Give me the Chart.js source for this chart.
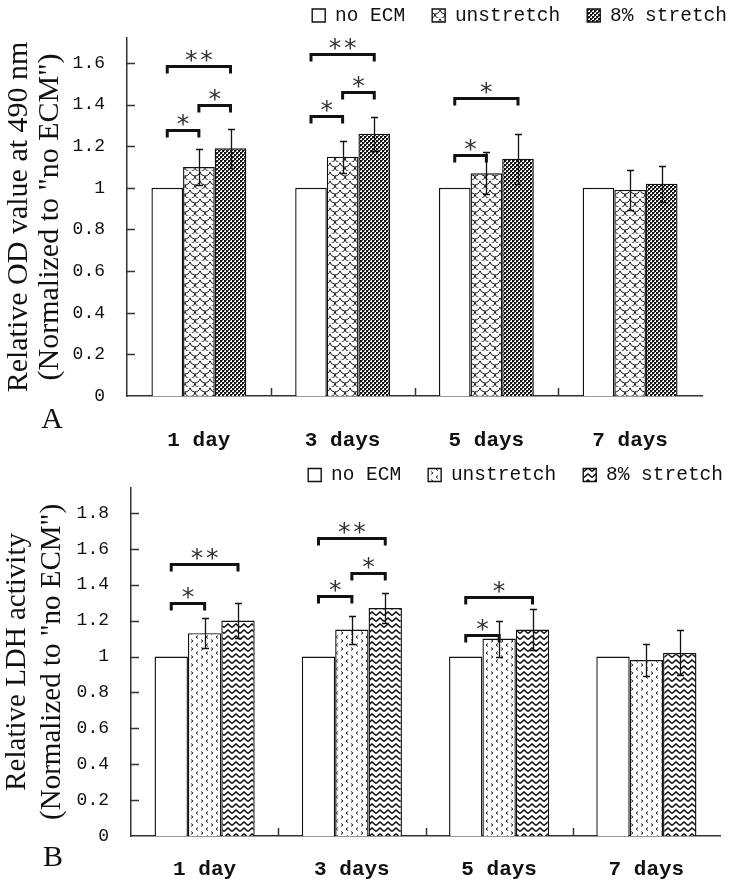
<!DOCTYPE html>
<html><head><meta charset="utf-8">
<script src="https://cdn.jsdelivr.net/npm/chart.js@4.4.1/dist/chart.umd.min.js"></script>
<style>
html,body{margin:0;padding:0;background:#fff;}
#wrap{position:relative;width:731px;height:883px;overflow:hidden;}
canvas{position:absolute;left:0;}
#cA{top:0;} #cB{top:455px;}
</style></head><body>
<div id="wrap"><canvas id="cA" width="731" height="455"></canvas><canvas id="cB" width="731" height="428"></canvas></div>
<script>
// ---------- data ----------
const categories = ['1 day', '3 days', '5 days', '7 days'];
const seriesNames = ['no ECM', 'unstretch', '8% stretch'];

// Panel A: Relative OD value at 490 nm
const odNoECM = [1, 1, 1, 1];
const odUnstretch = [1.10, 1.15, 1.07, 0.99];
const odStretch = [1.19, 1.26, 1.14, 1.02];
const odUnstretchErr = [0.085, 0.077, 0.10, 0.096];
const odStretchErr = [0.093, 0.082, 0.12, 0.087];
const odTickLabels = ['0', '0.2', '0.4', '0.6', '0.8', '1', '1.2', '1.4', '1.6'];
// significance: [category, fromSeries, toSeries, bracket value, mark]
const odSig = [
  [0, 0, 1, 1.28, '*'], [0, 1, 2, 1.40, '*'], [0, 0, 2, 1.585, '**'],
  [1, 0, 1, 1.345, '*'], [1, 1, 2, 1.46, '*'], [1, 0, 2, 1.645, '**'],
  [2, 0, 1, 1.16, '*'], [2, 0, 2, 1.43, '*']
];

// Panel B: Relative LDH activity
const ldhNoECM = [1, 1, 1, 1];
const ldhUnstretch = [1.13, 1.15, 1.10, 0.98];
const ldhStretch = [1.20, 1.27, 1.15, 1.02];
const ldhUnstretchErr = [0.084, 0.078, 0.10, 0.09];
const ldhStretchErr = [0.098, 0.085, 0.115, 0.125];
const ldhTickLabels = ['0', '0.2', '0.4', '0.6', '0.8', '1', '1.2', '1.4', '1.6', '1.8'];
const ldhSig = [
  [0, 0, 1, 1.30, '*'], [0, 0, 2, 1.515, '**'],
  [1, 0, 1, 1.335, '*'], [1, 1, 2, 1.465, '*'], [1, 0, 2, 1.66, '**'],
  [2, 0, 1, 1.12, '*'], [2, 0, 2, 1.33, '*']
];

// ---------- patterns ----------
function pat(target, w, h, draw) {
  const c = document.createElement('canvas'); c.width = w; c.height = h;
  const g = c.getContext('2d');
  g.fillStyle = '#fff'; g.fillRect(0, 0, w, h);
  draw(g);
  return target.createPattern(c, 'repeat');
}
function scalePattern(t) {
  return pat(t, 10, 9, g => {
    g.strokeStyle = '#111'; g.lineWidth = 1;
    g.beginPath(); g.arc(5, 0, 5, 0.15, Math.PI - 0.15); g.stroke();
    g.beginPath(); g.arc(0, 4.5, 5, 0.15, Math.PI / 2); g.stroke();
    g.beginPath(); g.arc(10, 4.5, 5, Math.PI / 2, Math.PI - 0.15); g.stroke();
  });
}
function checkerPattern(t) {
  return pat(t, 4, 4, g => {
    g.fillStyle = '#111'; g.fillRect(0, 0, 2, 2); g.fillRect(2, 2, 2, 2);
    g.fillStyle = '#555'; g.fillRect(2, 0, 1, 1); g.fillRect(0, 2, 1, 1);
  });
}
function chevronPattern(t) {
  return pat(t, 10, 8, g => {
    g.strokeStyle = '#222'; g.lineWidth = 1;
    g.beginPath(); g.moveTo(1, 0.5); g.lineTo(3, 2); g.lineTo(1, 3.5); g.stroke();
    g.beginPath(); g.moveTo(8, 4.5); g.lineTo(6, 6); g.lineTo(8, 7.5); g.stroke();
  });
}
function zigzagPattern(t) {
  return pat(t, 8, 6, g => {
    g.strokeStyle = '#111'; g.lineWidth = 1.6;
    g.beginPath(); g.moveTo(0, 4.5); g.lineTo(4, 1); g.lineTo(8, 4.5); g.stroke();
    g.beginPath(); g.moveTo(-4, 1); g.lineTo(0, 4.5); g.stroke();
    g.beginPath(); g.moveTo(8, 4.5); g.lineTo(12, 1); g.stroke();
  });
}

// ---------- plugins ----------
const legendFix = {
  id: 'legendFix',
  beforeLayout(chart, args, opts) {
    const lg = chart.legend;
    if (lg && !lg.__fixed) {
      const orig = lg.fit;
      lg.fit = function () { orig.call(this); this.height = opts.height; };
      lg.__fixed = true;
    }
  },
  afterLayout(chart, args, opts) {
    const lg = chart.legend;
    if (!lg) return;
    const lo = lg.options.labels;
    const itemH = Math.max(lo.font.size, lo.boxHeight);
    lg.top = opts.centerY - lo.padding - itemH / 2;
    lg.bottom = lg.top + lo.padding + itemH + 8;
    lg.right = opts.right + lo.padding;
  }
};

const errorBars = {
  id: 'errorBars',
  afterDatasetsDraw(chart) {
    const { ctx, scales: { y } } = chart;
    ctx.save();
    ctx.strokeStyle = '#111'; ctx.lineWidth = 1.3;
    chart.data.datasets.forEach((ds, di) => {
      if (!ds.errors) return;
      chart.getDatasetMeta(di).data.forEach((bar, i) => {
        const v = ds.data[i], e = ds.errors[i];
        if (!e) return;
        const x = Math.round(bar.x) + 0.5;
        const yt = Math.round(y.getPixelForValue(v + e)) + 0.5;
        const yb = Math.round(y.getPixelForValue(v - e)) + 0.5;
        ctx.beginPath();
        ctx.moveTo(x, yt); ctx.lineTo(x, yb);
        ctx.moveTo(x - 3.5, yt); ctx.lineTo(x + 3.5, yt);
        ctx.moveTo(x - 3.5, yb); ctx.lineTo(x + 3.5, yb);
        ctx.stroke();
      });
    });
    ctx.restore();
  }
};

function sigBrackets(items) {
  return {
    id: 'sigBrackets',
    afterDatasetsDraw(chart) {
      const { ctx, scales: { y } } = chart;
      ctx.save();
      items.forEach(([c, a, b, val, mark]) => {
        const xa = chart.getDatasetMeta(a).data[c].x;
        const xb = chart.getDatasetMeta(b).data[c].x;
        const yy = Math.round(y.getPixelForValue(val)) + 0.5;
        ctx.strokeStyle = '#111'; ctx.lineWidth = 3; ctx.lineJoin = 'miter'; ctx.lineCap = 'butt';
        ctx.beginPath();
        ctx.moveTo(xa, yy + 7); ctx.lineTo(xa, yy); ctx.lineTo(xb, yy); ctx.lineTo(xb, yy + 7);
        ctx.stroke();
        ctx.fillStyle = '#333'; ctx.font = '25px "DejaVu Sans Mono"';
        ctx.textAlign = 'center'; ctx.textBaseline = 'alphabetic';
        ctx.fillText(mark, (xa + xb) / 2, yy + 1);
      });
      ctx.restore();
    }
  };
}

const innerTicks = {
  id: 'innerTicks',
  afterDraw(chart) {
    const { ctx, scales: { x, y }, chartArea: ca } = chart;
    ctx.save();
    ctx.strokeStyle = '#333'; ctx.lineWidth = 1.5;
    ctx.beginPath();
    y.ticks.forEach(t => {
      if (t.value === 0) return;
      const py = Math.round(y.getPixelForValue(t.value)) + 0.5;
      ctx.moveTo(ca.left, py); ctx.lineTo(ca.left + 8, py);
    });
    for (let i = 1; i < categories.length; i++) {
      const px = Math.round((x.getPixelForValue(i - 1) + x.getPixelForValue(i)) / 2) + 0.5;
      ctx.moveTo(px, ca.bottom); ctx.lineTo(px, ca.bottom - 8);
    }
    ctx.stroke();
    ctx.restore();
  }
};

function panelLabel(text, px, py) {
  return {
    id: 'panelLabel',
    afterDraw(chart) {
      const ctx = chart.ctx;
      ctx.save();
      ctx.fillStyle = '#111'; ctx.font = '30px "Liberation Serif"';
      ctx.textAlign = 'center'; ctx.textBaseline = 'middle';
      ctx.fillText(text, px, py);
      ctx.restore();
    }
  };
}

// ---------- chart factory ----------
function makeChart(id, cfg) {
  const ctx = document.getElementById(id).getContext('2d');
  return new Chart(ctx, {
    type: 'bar',
    data: {
      labels: categories,
      datasets: [
        { label: seriesNames[0], data: cfg.s0, backgroundColor: '#fff', borderColor: '#111', borderWidth: 1.4 },
        { label: seriesNames[1], data: cfg.s1, errors: cfg.e1, backgroundColor: cfg.p1(ctx), borderColor: '#111', borderWidth: 1.4 },
        { label: seriesNames[2], data: cfg.s2, errors: cfg.e2, backgroundColor: cfg.p2(ctx), borderColor: '#111', borderWidth: 1.4 }
      ]
    },
    options: {
      responsive: false, animation: false, devicePixelRatio: 1,
      layout: { padding: { left: 0, right: cfg.padRight, top: 0, bottom: 0 } },
      datasets: { bar: { categoryPercentage: cfg.catPct, barPercentage: 1 } },
      plugins: {
        legend: {
          display: true, position: 'top', align: 'end',
          labels: { boxWidth: 13, boxHeight: 13, padding: 27, color: '#111',
                    font: { family: 'Liberation Mono', size: 19.5 } }
        },
        tooltip: { enabled: false },
        legendFix: { height: cfg.plotTop, centerY: cfg.legendY, right: cfg.legendRight }
      },
      scales: {
        x: {
          grid: { display: false, drawTicks: false },
          border: { display: true, color: '#333', width: 1.5 },
          ticks: { maxRotation: 0, padding: cfg.xPad, color: '#111',
                   font: { family: 'Liberation Mono', size: 21, weight: 'bold' } },
          afterFit(s) { s.height = cfg.xHeight; }
        },
        y: {
          min: 0, max: cfg.max,
          grid: { display: false, drawTicks: false },
          border: { display: true, color: '#333', width: 1.5 },
          ticks: { stepSize: 0.2, includeBounds: false, padding: 22, color: '#111',
                   font: { family: 'Liberation Mono', size: 18 },
                   callback: v => cfg.tickLabels[Math.round(v / 0.2)] },
          title: { display: true, text: cfg.title, color: '#111',
                   font: { family: 'Liberation Serif', size: cfg.titleSize, lineHeight: cfg.titleLH },
                   padding: { top: cfg.titlePad, bottom: 0 } },
          afterFit(s) { s.width = cfg.yWidth; }
        }
      }
    },
    plugins: [legendFix, errorBars, sigBrackets(cfg.sig), innerTicks, panelLabel(cfg.panel, cfg.panelX, cfg.panelY)]
  });
}

makeChart('cA', {
  s0: odNoECM, s1: odUnstretch, s2: odStretch, e1: odUnstretchErr, e2: odStretchErr,
  p1: scalePattern, p2: checkerPattern, sig: odSig, tickLabels: odTickLabels,
  max: 1.72, catPct: 0.66, padRight: 29, yWidth: 127, xHeight: 59, plotTop: 38,
  legendY: 15.5, legendRight: 727, xPad: 32,
  title: ['Relative OD value at 490 nm', '(Normalized to "no ECM")'],
  titleSize: 30, titleLH: 31 / 30, titlePad: 3.5,
  panel: 'A', panelX: 52, panelY: 420
});

makeChart('cB', {
  s0: ldhNoECM, s1: ldhUnstretch, s2: ldhStretch, e1: ldhUnstretchErr, e2: ldhStretchErr,
  p1: chevronPattern, p2: zigzagPattern, sig: ldhSig, tickLabels: ldhTickLabels,
  max: 1.94, catPct: 0.68, padRight: 11, yWidth: 131, xHeight: 47, plotTop: 10,
  legendY: 20, legendRight: 723, xPad: 21,
  title: ['Relative LDH activity', '(Normalized to "no ECM")'],
  titleSize: 29, titleLH: 35 / 29, titlePad: 0,
  panel: 'B', panelX: 53, panelY: 403
});
</script>
</body></html>
